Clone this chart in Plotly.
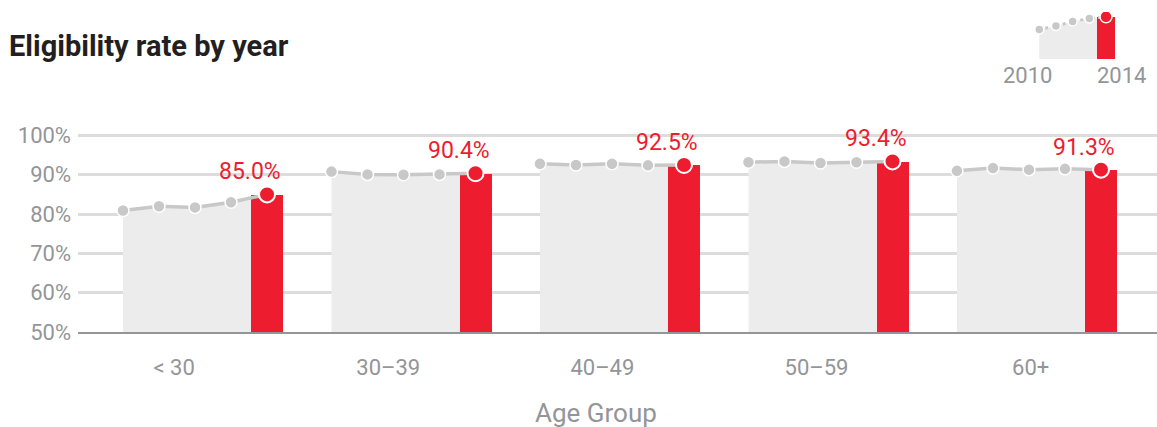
import plotly.graph_objects as go

# ---- data -------------------------------------------------------------
age_groups = ["< 30", "30–39", "40–49", "50–59", "60+"]
years = [2010, 2011, 2012, 2013, 2014]

rate_2010 = [80.9, 90.8, 92.8, 93.2, 91.0]
rate_2011 = [82.0, 90.1, 92.5, 93.4, 91.7]
rate_2012 = [81.7, 90.0, 92.8, 93.0, 91.3]
rate_2013 = [83.0, 90.1, 92.4, 93.2, 91.5]
rate_2014 = [85.0, 90.4, 92.5, 93.4, 91.3]

y_ticks = [50, 60, 70, 80, 90, 100]
y_tick_text = [f"{v}%" for v in y_ticks]

# sample shape used in the small year key (top right)
key_values = [0.63, 0.70, 0.80, 0.86, 0.90]

# ---- styling ----------------------------------------------------------
W, H = 1157, 427
RED = "#ed1c2e"
AREA = "#ececec"
LINE = "#c8c8c8"
GRID = "#dcdcdc"
AXIS = "#939598"
TXT = "#939598"
TITLE = "#231f20"
FONT = "Roboto"

YEAR_STEP = 0.1727      # spacing of the yearly points inside a group
BAR_W = 0.1535          # width of the 2014 bar
LABEL_STEP = 1.027      # spacing of the category labels
LABEL_OFFSET = -0.10

# plot box in pixels
PL, PR, PT, PB = 78, 1157, 127.6, 332
X_RANGE = [-0.5612, 4.614]
Y_RANGE = [50, 102]

fig = go.Figure()

series = [rate_2010, rate_2011, rate_2012, rate_2013, rate_2014]
for g, name in enumerate(age_groups):
    vals = [s[g] for s in series]
    xs = [g + (j - 2) * YEAR_STEP for j in range(len(years))]
    # shaded history (base layer)
    fig.add_trace(go.Scatter(x=xs, y=vals, mode="none", fill="tozeroy",
                             fillcolor=AREA, hoverinfo="skip", showlegend=False))
    # everything below sits on the overlay layer so it paints above the shading
    fig.add_trace(go.Bar(x=[xs[-1]], y=[vals[-1]], width=BAR_W,
                         marker=dict(color=RED, line=dict(width=0)),
                         xaxis="x3", yaxis="y3", showlegend=False))
    fig.add_trace(go.Scatter(x=xs, y=vals, mode="lines",
                             line=dict(color=LINE, width=3.5),
                             xaxis="x3", yaxis="y3",
                             hoverinfo="skip", showlegend=False))
    fig.add_trace(go.Scatter(x=xs[:-1], y=vals[:-1], mode="markers",
                             marker=dict(color=LINE, size=12,
                                         line=dict(color="white", width=1.5)),
                             xaxis="x3", yaxis="y3", showlegend=False))
    fig.add_trace(go.Scatter(x=[xs[-1]], y=[vals[-1]], mode="markers",
                             marker=dict(color=RED, size=16,
                                         line=dict(color="white", width=2)),
                             xaxis="x3", yaxis="y3", showlegend=False))
    fig.add_annotation(x=xs[-1] + BAR_W / 2, y=vals[-1], xref="x", yref="y",
                       text=f"{vals[-1]:.1f}%", showarrow=False,
                       xanchor="right", yanchor="bottom", yshift=7,
                       font=dict(family=FONT, size=23, color=RED))

# ---- year key ---------------------------------------------------------
fig.add_trace(go.Scatter(x=years, y=key_values, mode="none", fill="tozeroy",
                         fillcolor=AREA, xaxis="x2", yaxis="y2",
                         hoverinfo="skip", showlegend=False))
fig.add_trace(go.Bar(x=[years[-1]], y=[key_values[-1]], width=1.04,
                     marker=dict(color=RED, line=dict(width=0)),
                     xaxis="x4", yaxis="y4", showlegend=False))
fig.add_trace(go.Scatter(x=years, y=key_values, mode="lines",
                         line=dict(color=LINE, width=3, dash="dot"),
                         xaxis="x4", yaxis="y4", hoverinfo="skip",
                         showlegend=False))
fig.add_trace(go.Scatter(x=years[:-1], y=key_values[:-1], mode="markers",
                         marker=dict(color=LINE, size=9,
                                     line=dict(color="white", width=1.5)),
                         xaxis="x4", yaxis="y4", showlegend=False))
fig.add_trace(go.Scatter(x=[years[-1]], y=[key_values[-1]], mode="markers",
                         marker=dict(color=RED, size=12,
                                     line=dict(color="white", width=1.5)),
                         xaxis="x4", yaxis="y4", showlegend=False))

for label, px in (("2010", 1027.5), ("2014", 1121.5)):
    fig.add_annotation(x=px / W, y=1 - 76 / H, xref="paper", yref="paper",
                       text=label, showarrow=False, xanchor="center",
                       yanchor="middle",
                       font=dict(family=FONT, size=22, color=TXT))

# ---- titles -----------------------------------------------------------
fig.add_annotation(x=7 / W, y=1 - 46 / H, xref="paper", yref="paper",
                   text="Eligibility rate by year", showarrow=False,
                   xanchor="left", yanchor="middle",
                   font=dict(family=FONT, size=29, color=TITLE, weight=700))
fig.add_annotation(x=596 / W, y=1 - 413 / H, xref="paper", yref="paper",
                   text="Age Group", showarrow=False,
                   xanchor="center", yanchor="middle",
                   font=dict(family=FONT, size=26, color=TXT))

tick_pos = [LABEL_OFFSET + i * LABEL_STEP for i in range(len(age_groups))]
main_x_dom = [PL / W, PR / W]
main_y_dom = [1 - PB / H, 1 - PT / H]
key_x_dom = [1030.96 / W, 1118.5 / W]
key_y_dom = [1 - 59 / H, 1 - 12 / H]

fig.update_layout(
    width=W, height=H,
    margin=dict(l=0, r=0, t=0, b=0, autoexpand=False),
    paper_bgcolor="white", plot_bgcolor="white",
    bargap=0, barmode="overlay",
    xaxis=dict(domain=main_x_dom, range=X_RANGE,
               tickvals=tick_pos, ticktext=age_groups,
               tickfont=dict(family=FONT, size=22, color=TXT),
               showgrid=False, zeroline=False, automargin=False,
               showline=True, linecolor=AXIS, linewidth=2,
               ticks="", ticklabelstandoff=15, fixedrange=True),
    yaxis=dict(domain=main_y_dom, range=Y_RANGE,
               tickvals=y_ticks, ticktext=y_tick_text,
               tickfont=dict(family=FONT, size=22, color=TXT),
               showgrid=True, gridcolor=GRID, gridwidth=2.5,
               zeroline=False, showline=False, ticks="", automargin=False,
               ticklabelstandoff=6, fixedrange=True),
    xaxis3=dict(domain=main_x_dom, range=X_RANGE, overlaying="x",
                anchor="y3", visible=False, fixedrange=True, automargin=False),
    yaxis3=dict(domain=main_y_dom, range=Y_RANGE, overlaying="y",
                anchor="x3", visible=False, fixedrange=True, automargin=False),
    xaxis2=dict(domain=key_x_dom, range=[2009.5, 2014.75], automargin=False,
                visible=False, anchor="y2", fixedrange=True),
    yaxis2=dict(domain=key_y_dom, range=[0, 1], automargin=False,
                visible=False, anchor="x2", fixedrange=True),
    xaxis4=dict(domain=key_x_dom, range=[2009.5, 2014.75], overlaying="x2",
                visible=False, anchor="y4", fixedrange=True, automargin=False),
    yaxis4=dict(domain=key_y_dom, range=[0, 1], overlaying="y2",
                visible=False, anchor="x4", fixedrange=True, automargin=False),
)

fig.write_html("out.html")
